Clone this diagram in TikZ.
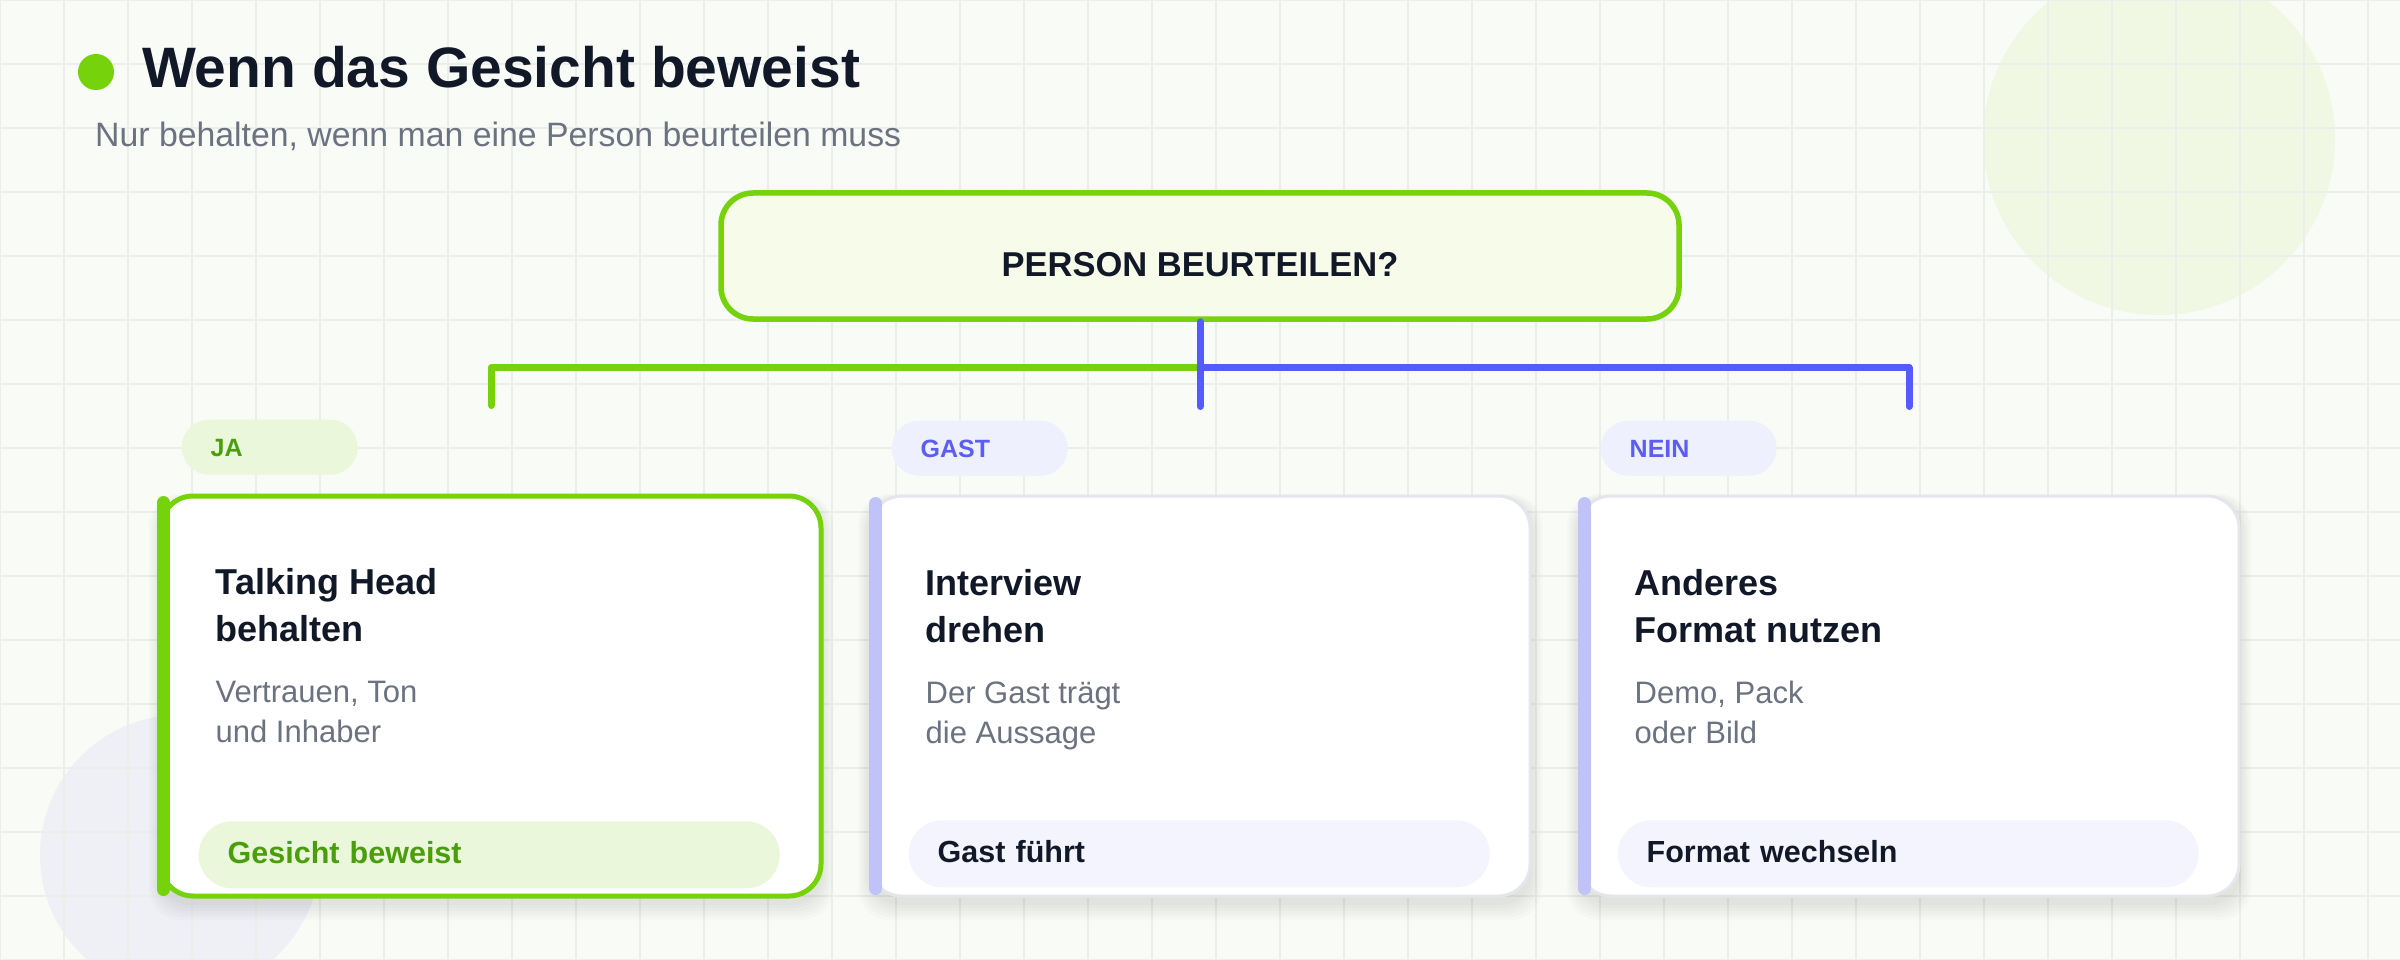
\documentclass[tikz,border=0pt]{standalone}
\usepackage{fontspec}
\setmainfont{Liberation Sans}
\usetikzlibrary{positioning, calc}

\definecolor{bgc}{HTML}{F9FBF7}
\definecolor{gridc}{HTML}{ECEEE9}
\definecolor{lime}{HTML}{76D20A}
\definecolor{limedark}{HTML}{4A9E0C}
\definecolor{limetag}{HTML}{EAF7DA}
\definecolor{limefill}{HTML}{F6FBEA}
\definecolor{violet}{HTML}{545BFF}
\definecolor{violettext}{HTML}{5B5EF0}
\definecolor{violettag}{HTML}{EEF0FE}
\definecolor{violetbar}{HTML}{C0C3F8}
\definecolor{violetpill}{HTML}{F3F4FD}
\definecolor{navy}{HTML}{111827}
\definecolor{greytext}{HTML}{6B7280}
\definecolor{cardline}{HTML}{E4E6EC}
\definecolor{blobgreen}{HTML}{F0F8E4}
\definecolor{blobviolet}{HTML}{EEF0F6}

\begin{document}
\begin{tikzpicture}[x=1pt, y=-1pt,
  decbox/.style={draw=lime, line width=5.5pt, fill=limefill, rounded corners=32pt,
    minimum width=958pt, minimum height=126pt, inner sep=0pt, text=navy,
    text height=40pt, text depth=0pt, font=\fontsize{34.5}{40}\selectfont\bfseries},
  card/.style={fill=white, rounded corners=32pt, minimum width=660pt, minimum height=400pt},
  tagpill/.style={rounded corners=27.5pt, minimum height=55pt, text width=118pt, align=left,
    inner xsep=29pt, inner ysep=0pt, text height=19pt, text depth=0pt, anchor=north west,
    font=\fontsize{25}{30}\selectfont\bfseries},
  footpill/.style={rounded corners=33.5pt, minimum height=67pt, text width=523pt, align=left,
    inner xsep=29pt, inner ysep=0pt, text height=17pt, text depth=0pt, anchor=south west,
    font=\fontsize{30.5}{36}\selectfont\bfseries},
  ctitle/.style={anchor=base west, inner sep=0pt, align=left, text=navy,
    font=\fontsize{36}{46.7}\selectfont\bfseries},
  cdesc/.style={anchor=base west, inner sep=0pt, align=left, text=greytext,
    font=\fontsize{31}{40}\selectfont},
  bar/.style={line width=13pt, line cap=round},
  link/.style={line width=7pt, line cap=round, line join=round}]

\useasboundingbox (0,0) rectangle (2400,960);
\fill[bgc] (0,0) rectangle (2400,960);
\fill[blobgreen] (2159,139) circle (176pt);
\fill[blobviolet] (180,855) circle (140pt);
\draw[gridc, line width=1.2pt, step=64pt] (0,960) grid (2400,0);

% heading
\node[circle, fill=lime, minimum size=36pt, inner sep=0pt] (dot) at (96,72) {};
\node[anchor=base west, inner sep=0pt, text=navy, font=\fontsize{57}{68}\selectfont\bfseries]
  (title) at (142,88) {Wenn das Gesicht beweist};
\node[anchor=base west, inner sep=0pt, text=greytext, font=\fontsize{33.8}{40}\selectfont]
  (sub) at (95,147) {Nur behalten, wenn man eine Person beurteilen muss};

% question
\node[decbox] (dec) at (1200,256) {PERSON BEURTEILEN?};

% soft shadows under the cards
\foreach \cx in {491,1200,1909}
  \foreach \k in {1,...,6}
    \fill[black, fill opacity=0.014, rounded corners=32pt]
      (\cx-330-2*\k, 500-\k) rectangle (\cx+330+2*\k, 902+3*\k);

% cards
\node[card, draw=lime, line width=5pt] (c1) at (491,696) {};
\node[card, draw=cardline, line width=3pt] (c2) at (1200,696) {};
\node[card, draw=cardline, line width=3pt] (c3) at (1909,696) {};

\draw[bar, lime] ($(c1.north west)+(5,9)$) -- ($(c1.south west)+(5,-9)$);
\draw[bar, violetbar] ($(c2.north west)+(7,9)$) -- ($(c2.south west)+(7,-9)$);
\draw[bar, violetbar] ($(c3.north west)+(7,9)$) -- ($(c3.south west)+(7,-9)$);

% branches
\coordinate (j) at ($(dec.south)+(0,46)$);
\coordinate (s1) at ($(c1.north)+(0,-88)$);
\coordinate (s2) at ($(c2.north)+(0,-88)$);
\coordinate (s3) at ($(c3.north)+(0,-88)$);
\draw[link, lime] (j) -| (s1);
\draw[link, violet] (j) -| (s3);
\draw[link, violet] (dec.south) -- (s2);

% tags
\node[tagpill, fill=limetag, text=limedark] (tja) at ($(c1.north west)+(23,-74)$) {JA};
\node[tagpill, fill=violettag, text=violettext] (tgast) at ($(c2.north west)+(23,-74)$) {GAST};
\node[tagpill, fill=violettag, text=violettext] (tnein) at ($(c3.north west)+(23,-74)$) {NEIN};

% card texts (base = last line)
\node[ctitle] (h1) at ($(c1.north west)+(57,148)$) {Talking Head\\behalten};
\node[cdesc] (d1) at ($(c1.north west)+(57,249)$) {Vertrauen, Ton\\und Inhaber};
\node[footpill, fill=limetag, text=limedark] (f1) at ($(c1.south west)+(40,-10)$) {Gesicht beweist};

\node[ctitle] (h2) at ($(c2.north west)+(57,148)$) {Interview\\drehen};
\node[cdesc] (d2) at ($(c2.north west)+(57,249)$) {Der Gast trägt\\die Aussage};
\node[footpill, fill=violetpill, text=navy] (f2) at ($(c2.south west)+(40,-10)$) {Gast führt};

\node[ctitle] (h3) at ($(c3.north west)+(57,148)$) {Anderes\\Format nutzen};
\node[cdesc] (d3) at ($(c3.north west)+(57,249)$) {Demo, Pack\\oder Bild};
\node[footpill, fill=violetpill, text=navy] (f3) at ($(c3.south west)+(40,-10)$) {Format wechseln};
\end{tikzpicture}
\end{document}
